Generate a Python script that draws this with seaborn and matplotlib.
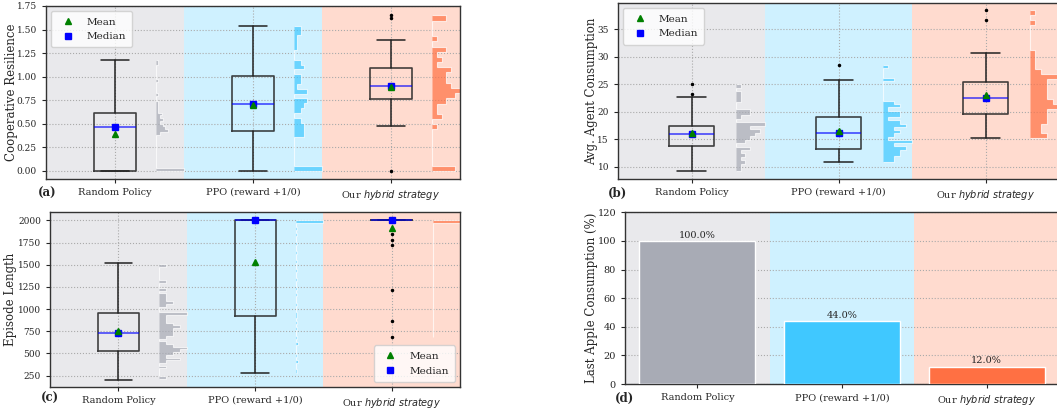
import matplotlib
matplotlib.use('Agg')

import numpy as np
import seaborn as sns
import matplotlib.pyplot as plt
from matplotlib.ticker import MultipleLocator

sns.set_style('ticks')
plt.rcParams['font.family'] = ['DejaVu Serif']
plt.rcParams['mathtext.fontset'] = 'dejavusans'

policies = ['Random Policy', 'PPO (reward +1/0)', r'Our $\it{hybrid\ strategy}$']
colors = ['#a8abb5', '#40c8ff', '#ff7043']

# (a) Cooperative Resilience: box stats per policy
res_whislo = [0.0, 0.0, 0.48]
res_q1 = [0.0, 0.42, 0.76]
res_med = [0.47, 0.71, 0.90]
res_q3 = [0.62, 1.01, 1.09]
res_whishi = [1.18, 1.54, 1.39]
res_mean = [0.39, 0.70, 0.89]
res_fliers = [[], [], [0.0, 1.62, 1.65]]
res_hist_range = [(0.0, 1.18), (0.0, 1.54), (0.0, 1.65)]
res_hist_random = [16, 0, 0, 0, 0, 0, 0, 0, 0, 0, 0, 0, 0, 2, 7, 5, 4, 2, 4, 2,
                   3, 1, 1, 1, 1, 0, 0, 1, 0, 0, 0, 0, 1, 0, 0, 0, 0, 0, 1, 1]
res_hist_ppo = [9, 0, 0, 0, 0, 0, 0, 3, 3, 3, 2, 0, 2, 3, 4, 0, 4, 1, 2, 2,
                0, 3, 2, 0, 0, 1, 1, 1, 2, 2]
res_hist_hybrid = [5, 0, 0, 0, 0, 0, 0, 0, 1, 0, 2, 1, 1, 3, 5, 6, 4, 3, 3, 4,
                   1, 2, 1, 3, 0, 1, 0, 0, 0, 3]

# (b) Avg. Agent Consumption
con_whislo = [9.2, 10.8, 15.2]
con_q1 = [13.8, 13.3, 19.7]
con_med = [16.0, 16.1, 22.6]
con_q3 = [17.5, 19.0, 25.5]
con_whishi = [22.8, 25.8, 30.8]
con_mean = [16.2, 16.5, 23.0]
con_fliers = [[23.3, 25.0], [28.5], [36.8, 38.5]]
con_hist_range = [(9.3, 25.0), (10.8, 28.5), (15.2, 38.5)]
con_hist_random = [1, 1, 2, 1, 2, 1, 3, 0, 2, 3, 4, 5, 3, 6, 0, 1, 3, 3, 0, 0,
                   1, 1, 1, 0, 1]
con_hist_ppo = [2, 2, 3, 3, 4, 2, 5, 1, 2, 3, 2, 4, 3, 1, 3, 3, 1, 3, 2, 0,
                0, 0, 0, 0, 0, 2, 0, 0, 0, 1]
con_hist_hybrid = [3, 2, 2, 3, 3, 3, 5, 4, 3, 3, 3, 3, 5, 2, 1, 1, 1, 1, 0, 0,
                   0, 0, 0, 1, 0, 1]

# (c) Episode Length
len_whislo = [205, 285, 2000]
len_q1 = [525, 925, 2000]
len_med = [730, 2000, 2000]
len_q3 = [955, 2000, 2000]
len_whishi = [1515, 2000, 2000]
len_mean = [755, 1530, 1920]
len_fliers = [[], [], [687, 868, 1218, 1726, 1782, 1846]]
len_hist_range = [(213, 1510), (285, 2000), (687, 2000)]
len_hist_random = [1, 0, 0, 0, 1, 0, 1, 3, 1, 2, 3, 4, 2, 1, 0, 1, 2, 2, 2, 3,
                   2, 1, 1, 1, 4, 0, 0, 1, 2, 1, 1, 1, 0, 1, 0, 0, 1, 0, 0, 0,
                   0, 0, 1]
len_hist_ppo = [1, 0, 0, 2, 0, 1, 0, 0, 0, 2, 0, 1, 0, 0, 1, 0, 1, 0, 1, 1,
                0, 0, 1, 0, 0, 1, 0, 1, 0, 0, 1, 0, 0, 1, 0, 0, 1, 0, 0, 1,
                0, 0, 1, 0, 0, 1, 0, 1, 0, 28]
len_hist_hybrid = [1, 0, 0, 0, 0, 0, 1, 0, 0, 0, 0, 0, 0, 0, 0, 0, 0, 0, 0, 0,
                   1, 0, 0, 0, 0, 0, 0, 0, 0, 0, 0, 0, 0, 0, 0, 0, 0, 0, 0, 1,
                   0, 1, 0, 0, 1, 0, 0, 0, 0, 44]

# (d) Last Apple Consumption (%)
last_apple = [100.0, 44.0, 12.0]

XTICK_FS = 7
YTICK_FS = 6.5
LABEL_FS = 8.5
LEGEND_FS = 7.5


def box_panel(ax, whislo, q1, med, q3, whishi, mean, fliers, hist_range, hists,
              ylabel, legend_loc):
    for i, c in enumerate(colors):
        ax.axvspan(i - 0.5, i + 0.5, color=c, alpha=0.25, lw=0, zorder=0)
    stats = []
    for i in range(3):
        stats.append(dict(whislo=whislo[i], q1=q1[i], med=med[i], q3=q3[i],
                          whishi=whishi[i], fliers=fliers[i]))
    ax.bxp(stats, positions=[0, 1, 2], widths=0.3, capwidths=0.2,
           showfliers=True, manage_ticks=False,
           boxprops=dict(color='#222222', lw=1.2, alpha=0.85),
           whiskerprops=dict(color='#222222', lw=1.1),
           capprops=dict(color='#222222', lw=1.1),
           medianprops=dict(color='blue', lw=1.4, alpha=0.6),
           flierprops=dict(marker='.', markersize=3, markerfacecolor='black',
                           markeredgecolor='black'))
    # histograms to the right of each box
    for i, counts in enumerate(hists):
        counts = np.array(counts, dtype=float)
        lo, hi = hist_range[i]
        edges = np.linspace(lo, hi, len(counts) + 1)
        base = i + 0.3
        ax.stairs(base + counts / counts.max() * 0.2, edges, baseline=base,
                  orientation='horizontal', fill=True, color=colors[i],
                  alpha=0.7, lw=0.8, zorder=2)
    ax.plot([0, 1, 2], med, 's', color='blue', markersize=5, label='Median', zorder=4)
    ax.plot([0, 1, 2], mean, '^', color='green', markersize=5, label='Mean', zorder=5)
    h, l = ax.get_legend_handles_labels()
    if legend_loc:
        ax.legend(h[::-1], l[::-1], loc=legend_loc, fontsize=LEGEND_FS,
                  framealpha=0.8, borderpad=0.6)
    ax.set_xlim(-0.5, 2.5)
    ax.set_xticks([0, 1, 2])
    ax.set_xticklabels(policies)
    ax.grid(True, ls=':', color='#aaaaaa', lw=0.8)
    ax.set_axisbelow(True)
    ax.set_ylabel(ylabel, fontsize=LABEL_FS)
    ax.tick_params(axis='x', labelsize=XTICK_FS, length=3, width=0.8)
    ax.tick_params(axis='y', labelsize=YTICK_FS, length=3, width=0.8)


fig = plt.figure(figsize=(10.57, 4.08), dpi=100)
ax_a = fig.add_axes([0.0435, 0.5613, 0.3917, 0.424])
ax_b = fig.add_axes([0.5847, 0.5613, 0.4172, 0.4313])
ax_c = fig.add_axes([0.0473, 0.0515, 0.3879, 0.4289])
ax_d = fig.add_axes([0.5913, 0.0588, 0.4106, 0.4209])

box_panel(ax_a, res_whislo, res_q1, res_med, res_q3, res_whishi, res_mean,
          res_fliers, res_hist_range,
          [res_hist_random, res_hist_ppo, res_hist_hybrid],
          'Cooperative Resilience', 'upper left')
ax_a.set_ylim(-0.085, 1.75)
ax_a.yaxis.set_major_locator(MultipleLocator(0.25))
ax_a.yaxis.set_label_coords(-0.068, 0.5)

box_panel(ax_b, con_whislo, con_q1, con_med, con_q3, con_whishi, con_mean,
          con_fliers, con_hist_range,
          [con_hist_random, con_hist_ppo, con_hist_hybrid],
          'Avg. Agent Consumption', 'upper left')
ax_b.set_ylim(7.8, 39.8)
ax_b.yaxis.set_major_locator(MultipleLocator(5))
ax_b.yaxis.set_label_coords(-0.045, 0.5)

box_panel(ax_c, len_whislo, len_q1, len_med, len_q3, len_whishi, len_mean,
          len_fliers, len_hist_range,
          [len_hist_random, len_hist_ppo, len_hist_hybrid],
          'Episode Length', 'lower right')
ax_c.set_ylim(122, 2095)
ax_c.yaxis.set_major_locator(MultipleLocator(250))
ax_c.yaxis.set_label_coords(-0.08, 0.5)

# (d) bar chart
for i, c in enumerate(colors):
    ax_d.axvspan(i - 0.5, i + 0.5, color=c, alpha=0.25, lw=0, zorder=0)
sns.barplot(x=policies, y=last_apple, hue=policies, palette=colors,
            saturation=1, width=0.8, legend=False, ax=ax_d, zorder=3)
for cont in ax_d.containers:
    ax_d.bar_label(cont, fmt='%.1f%%', fontsize=XTICK_FS, padding=1)
ax_d.set_xlim(-0.5, 2.5)
ax_d.set_ylim(0, 120)
ax_d.yaxis.set_major_locator(MultipleLocator(20))
ax_d.grid(True, axis='y', ls=':', color='#aaaaaa', lw=0.8)
ax_d.set_axisbelow(True)
ax_d.set_ylabel('Last Apple Consumption (%)', fontsize=LABEL_FS)
ax_d.yaxis.set_label_coords(-0.062, 0.5)
ax_d.tick_params(axis='x', labelsize=XTICK_FS, length=3, width=0.8)
ax_d.tick_params(axis='y', labelsize=YTICK_FS + 0.5, length=3, width=0.8)

for ax in [ax_a, ax_b, ax_c, ax_d]:
    for s in ax.spines.values():
        s.set_color('#333333')
        s.set_linewidth(1.0)

fig.text(38 / 1057, 1 - 193 / 408, '(a)', fontsize=LABEL_FS, fontweight='bold', va='center')
fig.text(608 / 1057, 1 - 193 / 408, '(b)', fontsize=LABEL_FS, fontweight='bold', va='center')
fig.text(41 / 1057, 1 - 398 / 408, '(c)', fontsize=LABEL_FS, fontweight='bold', va='center')
fig.text(615 / 1057, 1 - 398 / 408, '(d)', fontsize=LABEL_FS, fontweight='bold', va='center')

fig.savefig('out.png', dpi=100)
plt.close(fig)
